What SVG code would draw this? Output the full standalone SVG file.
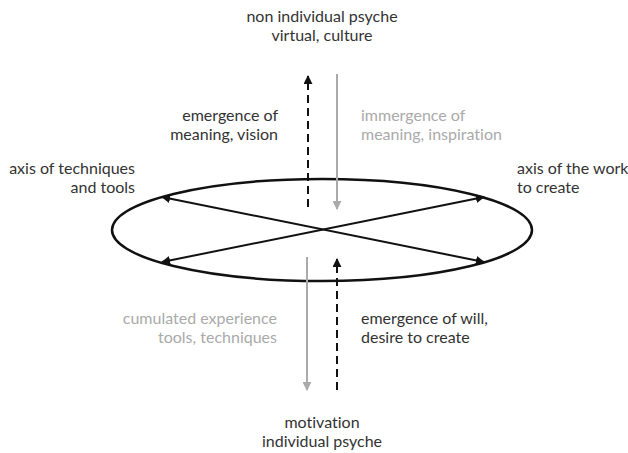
<svg xmlns="http://www.w3.org/2000/svg" width="628" height="453" viewBox="0 0 628 453">
  <style>
    text { font-family: Lato, "Open Sans", sans-serif; font-size: 16px; fill: #333; font-variant-ligatures: none; }
    text.muted { fill: #aaa; }
    .ring { fill: none; stroke: #111; stroke-width: 2.5; }
    .axis { stroke: #111; stroke-width: 2; fill: none; }
    .up { stroke: #111; stroke-width: 2; stroke-dasharray: 8 5; fill: none; }
    .down { stroke: #aaa; stroke-width: 2; fill: none; }
  </style>
  <defs>
    <marker id="headDark" viewBox="0 0 10 10" refX="9" refY="5" markerWidth="4.5" markerHeight="4.5" orient="auto-start-reverse" markerUnits="strokeWidth">
      <path d="M0,0 L10,5 L0,10 Z" fill="#111"/>
    </marker>
    <marker id="headGray" viewBox="0 0 10 10" refX="9" refY="5" markerWidth="4.5" markerHeight="4.5" orient="auto" markerUnits="strokeWidth">
      <path d="M0,0 L10,5 L0,10 Z" fill="#aaa"/>
    </marker>
  </defs>

  <g id="ring">
    <ellipse class="ring" cx="322" cy="230" rx="210" ry="51"/>
  </g>

  <g id="connectors">
    <line class="axis" x1="162" y1="197" x2="484" y2="262" marker-start="url(#headDark)" marker-end="url(#headDark)"/>
    <line class="axis" x1="484" y1="197" x2="162" y2="262" marker-start="url(#headDark)" marker-end="url(#headDark)"/>
    <line class="up" x1="308" y1="207" x2="308" y2="76" marker-end="url(#headDark)"/>
    <line class="down" x1="337" y1="74" x2="337" y2="209" marker-end="url(#headGray)"/>
    <line class="down" x1="307" y1="257" x2="307" y2="390" marker-end="url(#headGray)"/>
    <line class="up" x1="337" y1="390" x2="337" y2="259" marker-end="url(#headDark)"/>
  </g>

  <g id="top-label">
    <text x="322" y="22" text-anchor="middle">non individual psyche</text>
    <text x="322" y="41" text-anchor="middle">virtual, culture</text>
  </g>
  <g id="emergence-meaning">
    <text x="278" y="121" text-anchor="end">emergence of</text>
    <text x="278" y="140" text-anchor="end">meaning, vision</text>
  </g>
  <g id="immergence-meaning">
    <text class="muted" x="361" y="121">immergence of</text>
    <text class="muted" x="361" y="140">meaning, inspiration</text>
  </g>
  <g id="axis-techniques">
    <text x="135" y="174" text-anchor="end">axis of techniques</text>
    <text x="135" y="193" text-anchor="end">and tools</text>
  </g>
  <g id="axis-work">
    <text x="517" y="174">axis of the work</text>
    <text x="517" y="193">to create</text>
  </g>
  <g id="cumulated-experience">
    <text class="muted" x="277" y="324" text-anchor="end">cumulated experience</text>
    <text class="muted" x="277" y="343" text-anchor="end">tools, techniques</text>
  </g>
  <g id="emergence-will">
    <text x="361" y="324">emergence of will,</text>
    <text x="361" y="343">desire to create</text>
  </g>
  <g id="bottom-label">
    <text x="322" y="428" text-anchor="middle">motivation</text>
    <text x="322" y="447" text-anchor="middle">individual psyche</text>
  </g>
</svg>
